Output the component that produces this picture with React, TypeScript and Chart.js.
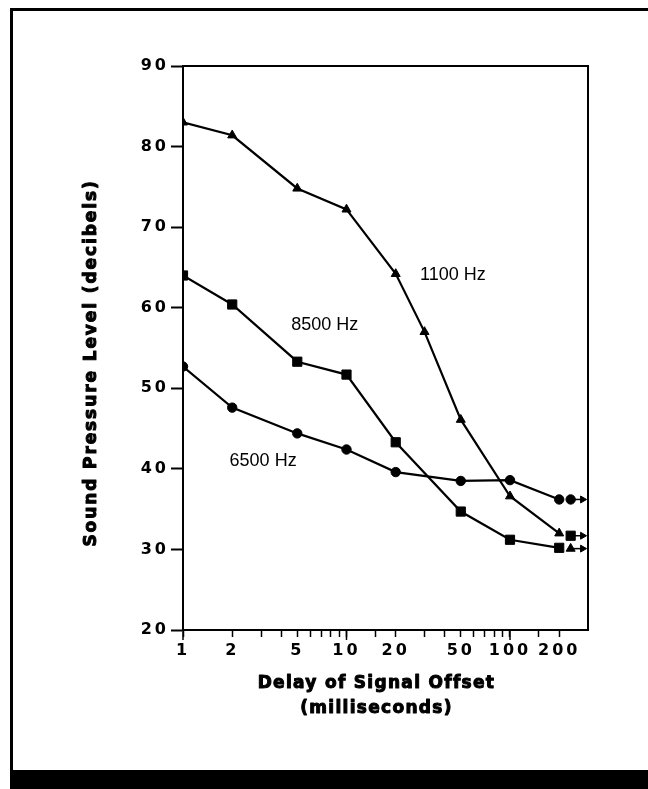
import React, { useEffect, useRef } from "react";
import { Chart, registerables } from "chart.js";

Chart.register(...registerables);

// ---- data ----
const delays1100 = [1, 2, 5, 10, 20, 30, 50, 100, 200];
const spl1100 = [83.0, 81.4, 74.8, 72.2, 64.2, 57.0, 46.1, 36.6, 32.0];

const delays8500 = [1, 2, 5, 10, 20, 50, 100, 200];
const spl8500 = [64.0, 60.4, 53.3, 51.7, 43.3, 34.7, 31.2, 30.2];

const delays6500 = [1, 2, 5, 10, 20, 50, 100, 200];
const spl6500 = [52.7, 47.6, 44.4, 42.4, 39.6, 38.5, 38.6, 36.2];

// separate end markers with arrows (beyond the last delay)
const arrowDelays = [235, 278];
const arrow1100 = 30.1;
const arrow8500 = 31.7;
const arrow6500 = 36.2;

const xTickLabels = [1, 2, 5, 10, 20, 50, 100, 200];
const xMajorTicks = [1, 10, 100];
const xMin = 1;
const xMax = 300;
const yMin = 20;
const yMax = 90;
const yStep = 10;

const seriesNames = ["1100 Hz", "8500 Hz", "6500 Hz"];
const labelDelay = [44.7, 7.37, 3.09];
const labelSpl = [64.0, 57.9, 41.0];

const xTitle = ["Delay of Signal Offset", "(milliseconds)"];
const yTitle = "Sound Pressure Level (decibels)";

const BLACK = "#000000";
const TICK_FONT = { family: "'DejaVu Sans'", size: 16, weight: "bold" as const };

function pts(xs: number[], ys: number[]) {
  return xs.map((x, i) => ({ x, y: ys[i] }));
}

function seriesDataset(xs: number[], ys: number[], style: string, radius: number) {
  return {
    data: pts(xs, ys),
    borderColor: BLACK,
    borderWidth: 2.2,
    backgroundColor: BLACK,
    pointStyle: style,
    pointRadius: radius,
    pointBackgroundColor: BLACK,
    pointBorderColor: BLACK,
    pointBorderWidth: 1,
    tension: 0,
    fill: false,
  };
}

function arrowDataset(y: number, style: string, radius: number) {
  return {
    data: arrowDelays.map((x) => ({ x, y })),
    borderColor: BLACK,
    borderWidth: 1.5,
    backgroundColor: BLACK,
    pointStyle: [style, "triangle"],
    pointRotation: [0, 90],
    pointRadius: [radius, 4],
    pointBackgroundColor: BLACK,
    pointBorderColor: BLACK,
    pointBorderWidth: 1,
    tension: 0,
    fill: false,
  };
}

function heavyText(ctx: any, text: string, x: number, y: number) {
  ctx.fillText(text, x, y);
  ctx.strokeText(text, x, y);
}

const decorPlugin = {
  id: "decor",
  beforeDraw(chart: any) {
    chart.ctx.letterSpacing = "3px";
  },
  beforeDatasetsDraw(chart: any) {
    const ctx = chart.ctx;
    ctx.letterSpacing = "0px";
    const a = chart.chartArea;
    const xs = chart.scales.x;
    ctx.save();
    ctx.strokeStyle = BLACK;
    ctx.lineWidth = 2;
    // top and right frame of the plot
    ctx.beginPath();
    ctx.moveTo(a.left, a.top);
    ctx.lineTo(a.right, a.top);
    ctx.lineTo(a.right, a.bottom);
    ctx.stroke();
    // longer major ticks on x
    ctx.lineWidth = 1.5;
    xMajorTicks.forEach((v) => {
      const px = xs.getPixelForValue(v);
      ctx.beginPath();
      ctx.moveTo(px, a.bottom);
      ctx.lineTo(px, a.bottom + 10);
      ctx.stroke();
    });
    ctx.restore();
  },
  afterDatasetsDraw(chart: any) {
    const ctx = chart.ctx;
    const a = chart.chartArea;
    const xs = chart.scales.x;
    const ys = chart.scales.y;
    ctx.save();
    ctx.fillStyle = BLACK;
    ctx.strokeStyle = BLACK;
    // series labels
    ctx.letterSpacing = "0px";
    ctx.font = "18px 'Liberation Sans'";
    ctx.textAlign = "center";
    ctx.textBaseline = "middle";
    seriesNames.forEach((name, i) => {
      ctx.fillText(name, xs.getPixelForValue(labelDelay[i]), ys.getPixelForValue(labelSpl[i]));
    });
    // x axis title
    ctx.font = "bold 17px 'DejaVu Sans'";
    ctx.lineWidth = 1;
    ctx.lineJoin = "round";
    ctx.letterSpacing = "1.3px";
    const cx = (a.left + a.right) / 2 - 9;
    heavyText(ctx, xTitle[0], cx, a.bottom + 54);
    heavyText(ctx, xTitle[1], cx, a.bottom + 79);
    // y axis title
    ctx.letterSpacing = "1.9px";
    ctx.translate(92, (a.top + a.bottom) / 2 + 15);
    ctx.rotate(-Math.PI / 2);
    heavyText(ctx, yTitle, 0, 0);
    ctx.restore();
  },
};

export default function App() {
  const ref = useRef<HTMLCanvasElement>(null);

  useEffect(() => {
    const canvas = ref.current;
    if (!canvas) return;
    const chart = new Chart(canvas, {
      type: "line",
      data: {
        datasets: [
          seriesDataset(delays1100, spl1100, "triangle", 5.2),
          seriesDataset(delays8500, spl8500, "rect", 6.5),
          seriesDataset(delays6500, spl6500, "circle", 4.7),
          arrowDataset(arrow6500, "circle", 4.7),
          arrowDataset(arrow8500, "rect", 6.5),
          arrowDataset(arrow1100, "triangle", 5.2),
        ] as any,
      },
      options: {
        responsive: false,
        devicePixelRatio: 1,
        animation: false,
        events: [],
        layout: { padding: { left: 81, top: 66, right: 60, bottom: 79 } },
        plugins: { legend: { display: false }, tooltip: { enabled: false } },
        scales: {
          x: {
            type: "logarithmic",
            min: xMin,
            max: xMax,
            afterFit: (s: any) => {
              s.height = 80;
            },
            border: { display: true, color: BLACK, width: 2 },
            grid: {
              display: true,
              drawOnChartArea: false,
              drawTicks: true,
              tickLength: 7,
              tickColor: (c: any) => (c.tick && Math.round(c.tick.value) >= xMax ? "rgba(0,0,0,0)" : BLACK),
              tickWidth: 1.5,
            },
            ticks: {
              autoSkip: false,
              maxRotation: 0,
              minRotation: 0,
              color: BLACK,
              font: TICK_FONT,
              padding: 4,
              callback: (v: any) => (xTickLabels.includes(Math.round(Number(v))) ? String(Math.round(Number(v))) : ""),
            },
            title: { display: false },
          },
          y: {
            type: "linear",
            min: yMin,
            max: yMax,
            afterFit: (s: any) => {
              s.width = 102;
            },
            border: { display: true, color: BLACK, width: 2 },
            grid: {
              display: true,
              drawOnChartArea: false,
              drawTicks: true,
              tickLength: 12,
              tickColor: BLACK,
              tickWidth: 2,
            },
            ticks: {
              stepSize: yStep,
              color: BLACK,
              font: TICK_FONT,
              padding: 2,
            },
            title: { display: false },
          },
        },
      } as any,
      plugins: [decorPlugin],
    });
    return () => chart.destroy();
  }, []);

  return (
    <div
      style={{
        position: "fixed",
        left: 0,
        top: 0,
        width: 648,
        height: 789,
        background: "#ffffff",
        overflow: "hidden",
      }}
    >
      <div
        style={{
          position: "absolute",
          left: 10,
          top: 8,
          width: 720,
          height: 762,
          borderLeft: "3px solid #000",
          borderTop: "3px solid #000",
          boxSizing: "border-box",
        }}
      />
      <div
        style={{
          position: "absolute",
          left: 10,
          top: 770,
          width: 720,
          height: 19,
          background: "#000",
        }}
      />
      <canvas
        ref={ref}
        width={648}
        height={789}
        style={{ position: "absolute", left: 0, top: 0, width: 648, height: 789 }}
      />
    </div>
  );
}
